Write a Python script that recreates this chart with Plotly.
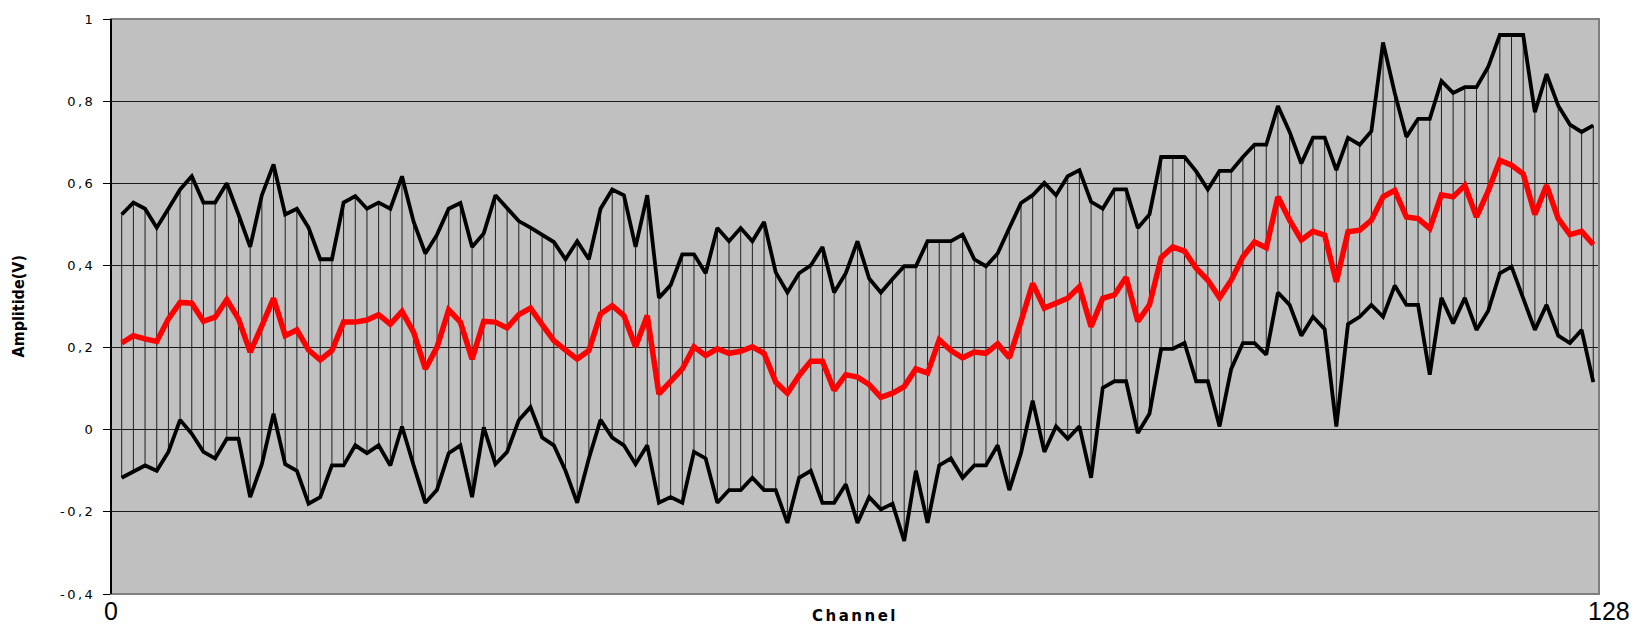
import plotly.graph_objects as go

# Per-channel amplitude statistics (V): maximum, mean and minimum
channels = list(range(1, 128))

v_max = [
    0.524, 0.553, 0.538, 0.492, 0.538, 0.585, 0.617, 0.553, 0.553, 0.600,
    0.524, 0.445, 0.571, 0.646, 0.524, 0.538, 0.492, 0.415, 0.415, 0.553,
    0.569, 0.538, 0.553, 0.538, 0.617, 0.506,
    0.429, 0.475, 0.538, 0.552, 0.445, 0.478, 0.571, 0.538, 0.508, 0.492,
    0.475, 0.457, 0.415, 0.459, 0.415, 0.538, 0.585, 0.571, 0.445, 0.571,
    0.321, 0.352, 0.427, 0.427, 0.381, 0.491, 0.459, 0.491, 0.459, 0.506,
    0.383, 0.334, 0.381, 0.400,
    0.445, 0.334, 0.381, 0.459, 0.368, 0.334, 0.367, 0.398, 0.398, 0.459,
    0.459, 0.459, 0.475, 0.415, 0.398, 0.429, 0.491, 0.552, 0.571, 0.601,
    0.571, 0.617, 0.632, 0.555, 0.538, 0.585, 0.585, 0.491, 0.524, 0.664,
    0.664, 0.664, 0.629, 0.585, 0.630,
    0.630, 0.664, 0.694, 0.694, 0.788, 0.725, 0.648, 0.711, 0.711, 0.632,
    0.711, 0.694, 0.727, 0.943, 0.820, 0.713, 0.757, 0.757, 0.849, 0.820,
    0.834, 0.834, 0.883, 0.961, 0.961, 0.961, 0.773, 0.866, 0.789, 0.743,
    0.725, 0.741,
]

v_mean = [
    0.211, 0.229, 0.221, 0.215, 0.270, 0.310, 0.308, 0.264, 0.274, 0.317,
    0.270, 0.189, 0.253, 0.320, 0.229, 0.243, 0.194, 0.170, 0.193, 0.262,
    0.262, 0.267, 0.280, 0.257, 0.288, 0.237,
    0.148, 0.201, 0.292, 0.262, 0.172, 0.264, 0.262, 0.248, 0.280, 0.296,
    0.256, 0.217, 0.194, 0.172, 0.193, 0.282, 0.302, 0.278, 0.202, 0.278,
    0.087, 0.116, 0.148, 0.202, 0.181, 0.197, 0.186, 0.191, 0.202, 0.186,
    0.116, 0.089, 0.132, 0.167,
    0.167, 0.096, 0.134, 0.128, 0.110, 0.079, 0.089, 0.105, 0.148, 0.138,
    0.219, 0.193, 0.175, 0.189, 0.186, 0.209, 0.175, 0.264, 0.356, 0.296,
    0.308, 0.320, 0.348, 0.251, 0.320, 0.328, 0.371, 0.264, 0.304, 0.419,
    0.445, 0.435, 0.393, 0.364, 0.321,
    0.364, 0.421, 0.457, 0.443, 0.567, 0.510, 0.462, 0.483, 0.474, 0.360,
    0.482, 0.486, 0.510, 0.567, 0.583, 0.518, 0.514, 0.490, 0.572, 0.567,
    0.595, 0.518, 0.581, 0.656, 0.644, 0.623, 0.524, 0.595, 0.514, 0.475,
    0.483, 0.451,
]

v_min = [
    -0.117, -0.101, -0.087, -0.100, -0.054, 0.024, -0.010, -0.054, -0.070, -0.022,
    -0.022, -0.164, -0.084, 0.039, -0.084, -0.100, -0.180, -0.164, -0.087, -0.087,
    -0.038, -0.057, -0.038, -0.087, 0.008, -0.087,
    -0.178, -0.146, -0.057, -0.038, -0.164, 0.006, -0.084, -0.054, 0.023, 0.055,
    -0.019, -0.038, -0.100, -0.178, -0.070, 0.024, -0.019, -0.038, -0.084, -0.038,
    -0.178, -0.164, -0.178, -0.054, -0.070, -0.178, -0.147, -0.147, -0.117, -0.147,
    -0.147, -0.227, -0.117, -0.100,
    -0.178, -0.178, -0.133, -0.227, -0.164, -0.194, -0.180, -0.271, -0.100, -0.227,
    -0.087, -0.070, -0.117, -0.087, -0.087, -0.038, -0.147, -0.057, 0.071, -0.054,
    0.008, -0.022, 0.008, -0.117, 0.102, 0.118, 0.118, -0.008, 0.039, 0.197,
    0.197, 0.211, 0.118, 0.118, 0.008,
    0.148, 0.211, 0.211, 0.183, 0.334, 0.304, 0.229, 0.275, 0.245, 0.008,
    0.257, 0.275, 0.304, 0.275, 0.351, 0.304, 0.304, 0.134, 0.321, 0.259,
    0.321, 0.243, 0.289, 0.381, 0.397, 0.321, 0.243, 0.304, 0.229, 0.211,
    0.243, 0.116,
]

y_ticks = [-0.4, -0.2, 0, 0.2, 0.4, 0.6, 0.8, 1]
y_tick_text = ["-0,4", "-0,2", "0", "0,2", "0,4", "0,6", "0,8", "1"]
x_end_labels = ["0", "128"]

# high-low connector for every channel
hl_x, hl_y = [], []
for c, lo, hi in zip(channels, v_min, v_max):
    hl_x += [c, c, None]
    hl_y += [lo, hi, None]

fig = go.Figure()
fig.add_trace(go.Scatter(x=hl_x, y=hl_y, mode="lines",
                         line=dict(color="#1e1e1e", width=1), hoverinfo="skip"))
fig.add_trace(go.Scatter(x=channels, y=v_max, mode="lines", name="max",
                         line=dict(color="#000000", width=3.8)))
fig.add_trace(go.Scatter(x=channels, y=v_min, mode="lines", name="min",
                         line=dict(color="#000000", width=3.8)))
fig.add_trace(go.Scatter(x=channels, y=v_mean, mode="lines", name="mean",
                         line=dict(color="#ff0000", width=5.5)))

tick_font = "DejaVu Sans, Verdana, sans-serif"
spaced = lambda s, ls: f'<span style="letter-spacing:{ls}px">{s}</span>'

fig.update_layout(
    width=1643, height=626,
    margin=dict(l=111, r=44, t=17, b=32),
    paper_bgcolor="white",
    plot_bgcolor="#c0c0c0",
    showlegend=False,
    xaxis=dict(range=[0.084, 127.49], showgrid=False, zeroline=False,
               showticklabels=False, ticks="", showline=False),
    yaxis=dict(range=[-0.4, 1.0], tickvals=y_ticks,
               ticktext=[spaced(t, 2.5) for t in y_tick_text],
               tickfont=dict(family=tick_font, size=13, color="#000"),
               ticks="outside", ticklen=7, tickwidth=1, tickcolor="#000",
               ticklabelstandoff=5,
               showgrid=True, gridcolor="#1a1a1a", gridwidth=1,
               zeroline=False, showline=False),
)

# plot frame: grey border, black value axis on the left
fig.add_shape(type="rect", xref="paper", yref="paper", x0=0, x1=1, y0=0, y1=1,
              line=dict(color="#808080", width=2), layer="above")
fig.add_shape(type="line", xref="paper", yref="paper", x0=0, x1=0, y0=0, y1=1,
              line=dict(color="#000000", width=2), layer="above")

# axis titles and end labels of the channel axis
fig.add_annotation(text="<b>Amplitide(V)</b>", xref="paper", yref="paper",
                   x=0, xshift=-93, y=0.5, yshift=0, textangle=-90,
                   showarrow=False, xanchor="center", yanchor="middle",
                   font=dict(family="Liberation Sans Narrow, DejaVu Sans Condensed, Arial Narrow",
                             size=16, color="#000"))
fig.add_annotation(text="<b>" + spaced("Channel", 2.5) + "</b>", xref="paper", yref="paper",
                   x=(855 - 111) / 1488, y=0, yshift=-22,
                   showarrow=False, xanchor="center", yanchor="middle",
                   font=dict(family=tick_font, size=15, color="#000"))
for pos, lab, shift in zip([0, 1], x_end_labels, [0, 10]):
    fig.add_annotation(text=lab, xref="paper", yref="paper", x=pos, xshift=shift,
                       y=0, yshift=-17, showarrow=False,
                       xanchor="center", yanchor="middle",
                       font=dict(family="Liberation Sans, Arial, sans-serif",
                                 size=25, color="#000"))

fig.write_html("out.html")
